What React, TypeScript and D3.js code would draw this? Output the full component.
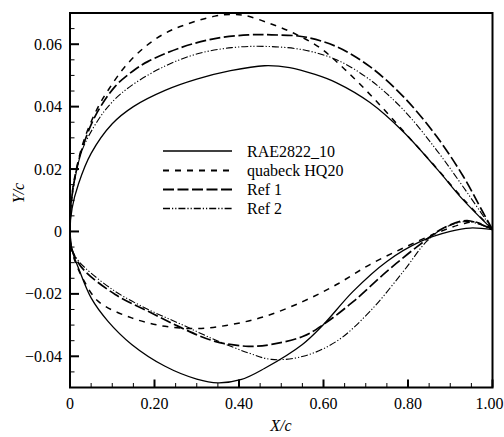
import React from "react";
import * as d3 from "d3";

// ---------- data ----------
const seriesNames = ["RAE2822_10", "quabeck HQ20", "Ref 1", "Ref 2"];

const raeUpperX = [0, 0.005, 0.02, 0.05, 0.1, 0.15, 0.225, 0.3, 0.38, 0.46, 0.52, 0.58, 0.63, 0.71, 0.79, 0.87, 0.93, 1.0];
const raeUpperY = [0, 0.0075, 0.0152, 0.025, 0.0345, 0.04, 0.0452, 0.0488, 0.0515, 0.0531, 0.0525, 0.0503, 0.0477, 0.0413, 0.0318, 0.0198, 0.0102, 0.0006];
const raeLowerX = [0, 0.005, 0.02, 0.05, 0.09, 0.146, 0.225, 0.3, 0.35, 0.406, 0.46, 0.55, 0.6, 0.67, 0.75, 0.83, 0.9, 0.947, 1.0];
const raeLowerY = [0, -0.006, -0.0117, -0.0213, -0.0288, -0.0362, -0.0432, -0.0473, -0.0485, -0.0474, -0.0439, -0.0362, -0.0298, -0.0192, -0.0096, -0.0032, 0.0, 0.0011, 0.0006];

const hqUpperX = [0, 0.004, 0.015, 0.035, 0.067, 0.091, 0.13, 0.178, 0.225, 0.272, 0.343, 0.38, 0.414, 0.47, 0.53, 0.59, 0.65, 0.72, 0.79, 0.86, 0.93, 1.0];
const hqUpperY = [0, 0.011, 0.02, 0.03, 0.04, 0.0454, 0.0528, 0.0592, 0.0635, 0.0662, 0.069, 0.0695, 0.0692, 0.0668, 0.0635, 0.059, 0.052, 0.0425, 0.032, 0.0215, 0.0105, 0.0006];
const hqLowerX = [0, 0.004, 0.012, 0.03, 0.067, 0.146, 0.225, 0.304, 0.383, 0.462, 0.552, 0.631, 0.71, 0.789, 0.868, 0.931, 0.96, 1.0];
const hqLowerY = [0, -0.006, -0.0096, -0.015, -0.0224, -0.0277, -0.0304, -0.0311, -0.0298, -0.0272, -0.0224, -0.017, -0.0106, -0.0053, -0.0005, 0.0025, 0.003, 0.0006];

const ref1UpperX = [0, 0.004, 0.015, 0.03, 0.059, 0.107, 0.15, 0.185, 0.264, 0.343, 0.422, 0.477, 0.552, 0.631, 0.71, 0.789, 0.868, 0.931, 0.978, 1.0];
const ref1UpperY = [0, 0.0105, 0.0195, 0.027, 0.0368, 0.0465, 0.0515, 0.0545, 0.059, 0.0618, 0.063, 0.063, 0.0624, 0.0592, 0.0528, 0.0432, 0.0304, 0.0176, 0.006, 0.0006];
const ref1LowerX = [0, 0.004, 0.015, 0.036, 0.107, 0.185, 0.264, 0.343, 0.422, 0.477, 0.552, 0.6, 0.671, 0.75, 0.828, 0.884, 0.94, 1.0];
const ref1LowerY = [0, -0.0055, -0.009, -0.0128, -0.0202, -0.0256, -0.0309, -0.0352, -0.0368, -0.0362, -0.0336, -0.0298, -0.0224, -0.0128, -0.0042, 0.0011, 0.0035, 0.0006];

const ref2UpperX = [0, 0.004, 0.015, 0.03, 0.067, 0.1, 0.146, 0.225, 0.304, 0.383, 0.462, 0.552, 0.631, 0.71, 0.789, 0.868, 0.93, 1.0];
const ref2UpperY = [0, 0.01, 0.019, 0.0265, 0.0358, 0.0415, 0.0468, 0.053, 0.057, 0.0589, 0.0593, 0.0582, 0.055, 0.0486, 0.039, 0.026, 0.0144, 0.0006];
const ref2LowerX = [0, 0.004, 0.015, 0.036, 0.107, 0.185, 0.264, 0.343, 0.422, 0.477, 0.552, 0.631, 0.71, 0.789, 0.844, 0.884, 0.94, 1.0];
const ref2LowerY = [0, -0.0053, -0.0085, -0.0117, -0.0192, -0.025, -0.0298, -0.0347, -0.0389, -0.041, -0.04, -0.0352, -0.0256, -0.0128, -0.0032, 0.001, 0.0032, 0.0006];

const xTickValues = [0, 0.2, 0.4, 0.6, 0.8, 1.0];
const xTickLabels = ["0", "0.20", "0.40", "0.60", "0.80", "1.00"];
const yTickValues = [-0.04, -0.02, 0, 0.02, 0.04, 0.06];
const yTickLabels = ["\u22120.04", "\u22120.02", "0", "0.02", "0.04", "0.06"];

// ---------- layout ----------
const W = 504, H = 437;
const L = 70, R = 492.5, T = 13, B = 387.5;
const FONT = "Liberation Serif, Times New Roman, DejaVu Serif, serif";
const dashes = ["none", "6,6", "11,3.5", "7,2,1.2,2,1.2,2"];
const widths = [1.3, 1.5, 1.7, 1.1];

type Pt = [number, number];
function zip(xs: number[], ys: number[]): Pt[] {
  return xs.map((x, i) => [x, ys[i]] as Pt);
}

const textStyle: React.CSSProperties = { fontFamily: FONT, fontSize: 16 };

export default function App() {
  const x = d3.scaleLinear().domain([0, 1]).range([L, R]);
  const y = d3.scaleLinear().domain([-0.05, 0.07]).range([B, T]);
  const line = d3
    .line<Pt>()
    .x((d) => x(d[0]))
    .y((d) => y(d[1]))
    .curve(d3.curveCatmullRom.alpha(0.5));

  const airfoils: Pt[][] = [
    [...zip(raeUpperX, raeUpperY).reverse(), ...zip(raeLowerX, raeLowerY).slice(1)],
    [...zip(hqUpperX, hqUpperY).reverse(), ...zip(hqLowerX, hqLowerY).slice(1)],
    [...zip(ref1UpperX, ref1UpperY).reverse(), ...zip(ref1LowerX, ref1LowerY).slice(1)],
    [...zip(ref2UpperX, ref2UpperY).reverse(), ...zip(ref2LowerX, ref2LowerY).slice(1)],
  ];

  const xMinor = d3.range(0, 1.0001, 0.05).filter((v) => Math.abs(v * 5 - Math.round(v * 5)) > 1e-6);
  const yMinor = d3.range(-0.05, 0.0701, 0.005).filter((v) => Math.abs(v * 50 - Math.round(v * 50)) > 1e-6);

  const legendY = [151, 170.5, 189.5, 208.5];

  return (
    <svg width={W} height={H} style={{ position: "absolute", left: 0, top: 0, background: "#fff" }}>
      <rect x={0} y={0} width={W} height={H} fill="#fff" />
      {airfoils.map((pts, i) => (
        <path key={i} d={line(pts) || ""} fill="none" stroke="#000" strokeWidth={widths[i]} strokeDasharray={dashes[i]} />
      ))}
      {/* frame */}
      <rect x={L} y={T} width={R - L} height={B - T} fill="none" stroke="#000" strokeWidth={2} />
      {/* x ticks */}
      {xTickValues.map((v, i) => (
        <g key={"xt" + i}>
          <line x1={x(v)} x2={x(v)} y1={B} y2={B - 8} stroke="#000" strokeWidth={2} />
          <text x={i === xTickValues.length - 1 ? x(v) - 3 : x(v)} y={409} style={textStyle} textAnchor="middle" fill="#000">
            {xTickLabels[i]}
          </text>
        </g>
      ))}
      {xMinor.map((v, i) => (
        <line key={"xm" + i} x1={x(v)} x2={x(v)} y1={B} y2={B - 4.5} stroke="#000" strokeWidth={1} />
      ))}
      {/* y ticks */}
      {yTickValues.map((v, i) => (
        <g key={"yt" + i}>
          <line x1={L} x2={L + 9} y1={y(v)} y2={y(v)} stroke="#000" strokeWidth={2} />
          <text x={62} y={y(v)} dy="0.35em" style={textStyle} textAnchor="end" fill="#000">
            {yTickLabels[i]}
          </text>
        </g>
      ))}
      {yMinor.map((v, i) => (
        <line key={"ym" + i} x1={L} x2={L + 4.5} y1={y(v)} y2={y(v)} stroke="#000" strokeWidth={1} />
      ))}
      {/* axis titles */}
      <text x={281} y={431} style={{ ...textStyle, fontStyle: "italic" }} textAnchor="middle" fill="#000">
        X/c
      </text>
      <text transform={`translate(24,193) rotate(-90)`} style={{ ...textStyle, fontStyle: "italic" }} textAnchor="middle" fill="#000">
        Y/c
      </text>
      {/* legend */}
      {seriesNames.map((name, i) => (
        <g key={"lg" + i}>
          <line x1={163} x2={232} y1={legendY[i]} y2={legendY[i]} stroke="#000" strokeWidth={widths[i] + 0.3} strokeDasharray={dashes[i]} />
          <text x={247} y={legendY[i]} dy="0.35em" style={textStyle} fill="#000">
            {name}
          </text>
        </g>
      ))}
    </svg>
  );
}
